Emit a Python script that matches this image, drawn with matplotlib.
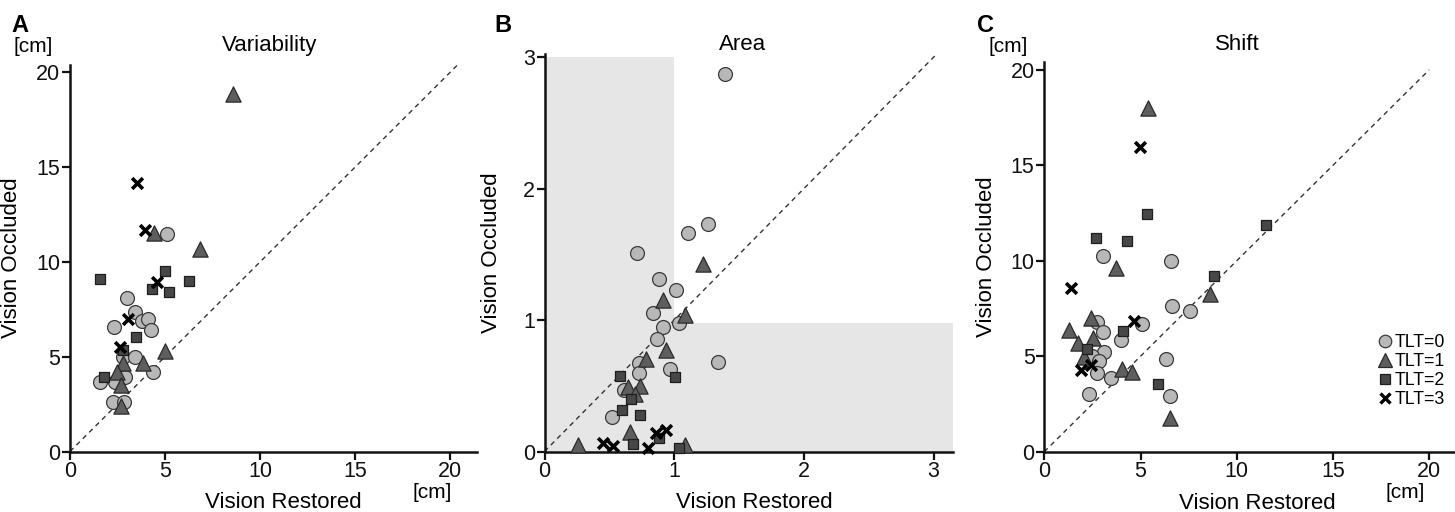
import matplotlib
matplotlib.use("Agg")
import matplotlib.pyplot as plt
from matplotlib.lines import Line2D

plt.rcParams['font.family'] = ['Liberation Sans', 'DejaVu Sans']

# ---------------- data ----------------
# Panel A: Variability [cm]
A_c0_x = [2.98, 3.43, 3.77, 4.08, 2.33, 4.27, 2.77, 3.40, 4.38, 2.89, 1.58, 2.36, 2.28, 2.85, 5.08]
A_c0_y = [8.08, 7.35, 6.89, 6.98, 6.55, 6.41, 4.97, 5.00, 4.21, 3.95, 3.65, 3.68, 2.63, 2.63, 11.48]
A_c1_x = [8.57, 4.43, 6.83, 4.98, 2.80, 3.85, 2.45, 2.68, 2.66]
A_c1_y = [18.87, 11.51, 10.69, 5.32, 4.65, 4.65, 4.21, 3.51, 2.40]
A_c2_x = [1.58, 4.99, 4.31, 5.22, 6.24, 3.45, 2.80, 1.80]
A_c2_y = [9.09, 9.49, 8.56, 8.40, 9.00, 6.06, 5.36, 3.92]
A_c3_x = [3.50, 3.96, 4.56, 3.05, 2.63]
A_c3_y = [14.15, 11.65, 8.96, 6.98, 5.50]

# Panel B: Area
B_c0_x = [1.39, 1.26, 1.11, 0.71, 0.885, 1.015, 0.84, 0.91, 1.04, 0.87, 0.726, 1.34, 0.967, 0.73, 0.61, 0.52]
B_c0_y = [2.87, 1.73, 1.66, 1.51, 1.31, 1.23, 1.05, 0.95, 0.976, 0.854, 0.67, 0.68, 0.63, 0.60, 0.47, 0.266]
B_c1_x = [1.22, 0.915, 1.08, 0.94, 0.78, 0.736, 0.64, 0.70, 0.66, 0.26, 1.08]
B_c1_y = [1.43, 1.15, 1.04, 0.77, 0.70, 0.50, 0.49, 0.44, 0.147, 0.05, 0.05]
B_c2_x = [0.585, 1.005, 0.67, 0.595, 0.736, 0.885, 0.68, 1.04]
B_c2_y = [0.576, 0.57, 0.40, 0.317, 0.28, 0.10, 0.058, 0.028]
B_c3_x = [0.86, 0.936, 0.45, 0.526, 0.80]
B_c3_y = [0.14, 0.16, 0.066, 0.045, 0.025]

# Panel C: Shift [cm]
C_c0_x = [3.04, 6.60, 6.63, 7.55, 2.76, 5.07, 3.07, 3.98, 3.10, 2.50, 2.85, 6.32, 2.73, 3.46, 2.34, 6.55]
C_c0_y = [10.26, 10.00, 7.64, 7.37, 6.77, 6.69, 6.27, 5.85, 5.24, 5.01, 4.75, 4.84, 4.10, 3.84, 3.02, 2.92]
C_c1_x = [5.39, 3.70, 8.60, 2.43, 1.29, 2.55, 1.74, 2.08, 4.03, 4.55, 6.51]
C_c1_y = [17.98, 9.63, 8.26, 6.98, 6.37, 5.94, 5.71, 4.94, 4.33, 4.16, 1.78]
C_c2_x = [5.36, 2.69, 4.32, 11.50, 8.80, 4.08, 2.20, 5.90]
C_c2_y = [12.44, 11.20, 11.05, 11.87, 9.20, 6.34, 5.36, 3.54]
C_c3_x = [4.98, 1.39, 4.67, 2.42, 1.91]
C_c3_y = [15.97, 8.55, 6.84, 4.54, 4.28]

group_labels = ['TLT=0', 'TLT=1', 'TLT=2', 'TLT=3']
panel_titles = ['Variability', 'Area', 'Shift']
ticks_cm = [0, 5, 10, 15, 20]
ticks_area = [0, 1, 2, 3]

# ---------------- styles ----------------
styles = [
    dict(marker='o', s=100, facecolor='#b8b8b8', edgecolor='#3a3a3a', linewidths=0.9),
    dict(marker='^', s=120, facecolor='#5e5e5e', edgecolor='#2a2a2a', linewidths=0.9),
    dict(marker='s', s=62, facecolor='#474747', edgecolor='#1e1e1e', linewidths=0.9),
    dict(marker='x', s=60, color='#000000', linewidths=2.6),
]

fig = plt.figure(figsize=(14.55, 5.12), dpi=100)

axA = fig.add_axes([70/1455, 60.5/512, 407/1455, 387/512])
axB = fig.add_axes([544.5/1455, 60.5/512, 408.6/1455, 397/512])
axC = fig.add_axes([1044.3/1455, 60.3/512, 410/1455, 389.6/512])

TICK_FS = 15.5
LAB_FS = 16


def style_axes(ax, xlim, ylim, ticks):
    ax.set_xlim(*xlim)
    ax.set_ylim(*ylim)
    ax.set_xticks(ticks)
    ax.set_yticks(ticks)
    for sp in ['top', 'right']:
        ax.spines[sp].set_visible(False)
    for sp in ['left', 'bottom']:
        ax.spines[sp].set_linewidth(1.8)
        ax.spines[sp].set_color('#111111')
    ax.tick_params(direction='out', length=6, width=1.6, labelsize=TICK_FS,
                   colors='#111111', pad=1)


def draw_groups(ax, data):
    for (xs, ys), st in zip(data, styles):
        ax.scatter(xs, ys, zorder=3, clip_on=False, **st)


def diag(ax, end):
    ax.plot([0, end], [0, end], ls=(0, (3.5, 3)), lw=1.0, color='#333333', zorder=2)


# Panel A
style_axes(axA, (0, 21.4), (0, 20.4), ticks_cm)
diag(axA, 20.4)
draw_groups(axA, [(A_c0_x, A_c0_y), (A_c1_x, A_c1_y), (A_c2_x, A_c2_y), (A_c3_x, A_c3_y)])
axA.set_xlabel('Vision Restored', fontsize=LAB_FS)
axA.xaxis.set_label_coords(0.523, -0.105)
axA.set_ylabel('Vision Occluded', fontsize=LAB_FS)
axA.yaxis.set_label_coords(-0.118, 0.5)

# Panel B
style_axes(axB, (0, 3.15), (0, 3.02), ticks_area)
axB.fill_between([0, 1], 0, 3.0, color='#e6e6e6', lw=0, zorder=0)
axB.fill_between([1, 3.15], 0, 0.98, color='#e6e6e6', lw=0, zorder=0)
diag(axB, 3.06)
draw_groups(axB, [(B_c0_x, B_c0_y), (B_c1_x, B_c1_y), (B_c2_x, B_c2_y), (B_c3_x, B_c3_y)])
axB.set_xlabel('Vision Restored', fontsize=LAB_FS)
axB.xaxis.set_label_coords(0.513, -0.102)
axB.set_ylabel('Vision Occluded', fontsize=LAB_FS)
axB.yaxis.set_label_coords(-0.104, 0.5)

# Panel C
style_axes(axC, (0, 21.3), (0, 20.4), ticks_cm)
diag(axC, 20.0)
draw_groups(axC, [(C_c0_x, C_c0_y), (C_c1_x, C_c1_y), (C_c2_x, C_c2_y), (C_c3_x, C_c3_y)])
axC.set_xlabel('Vision Restored', fontsize=LAB_FS)
axC.xaxis.set_label_coords(0.519, -0.105)
axC.set_ylabel('Vision Occluded', fontsize=LAB_FS)
axC.yaxis.set_label_coords(-0.115, 0.5)

# Titles at a common height
for xc, t in zip([270, 743, 1237], panel_titles):
    fig.text(xc/1455, 1 - 45/512, t, fontsize=LAB_FS, ha='center', va='center')

# Legend in panel C
handles = [
    Line2D([], [], ls='none', marker='o', markersize=9, markerfacecolor='#b8b8b8', markeredgecolor='#3a3a3a', markeredgewidth=0.9),
    Line2D([], [], ls='none', marker='^', markersize=10, markerfacecolor='#5e5e5e', markeredgecolor='#2a2a2a', markeredgewidth=0.9),
    Line2D([], [], ls='none', marker='s', markersize=7.5, markerfacecolor='#474747', markeredgecolor='#1e1e1e', markeredgewidth=0.9),
    Line2D([], [], ls='none', marker='x', markersize=7.5, color='#000000', markeredgewidth=2.4),
]
fig.legend(handles, group_labels, loc='upper left', bbox_to_anchor=(1380/1455, 1 - 334/512),
           frameon=False, fontsize=12.8, handlelength=0.6, handletextpad=0.25,
           labelspacing=0.12, borderaxespad=0, borderpad=0)

# Panel letters and units
fig.text(20/1455, 1 - 26/512, 'A', fontsize=17, fontweight='bold', ha='center', va='center')
fig.text(503/1455, 1 - 26/512, 'B', fontsize=17, fontweight='bold', ha='center', va='center')
fig.text(985/1455, 1 - 26/512, 'C', fontsize=17, fontweight='bold', ha='center', va='center')
fig.text(33/1455, 1 - 47/512, '[cm]', fontsize=15, ha='center', va='center')
fig.text(1008/1455, 1 - 47/512, '[cm]', fontsize=15, ha='center', va='center')
fig.text(432/1455, 1 - 493/512, '[cm]', fontsize=15, ha='center', va='center')
fig.text(1405/1455, 1 - 493/512, '[cm]', fontsize=15, ha='center', va='center')

fig.savefig('out.png', dpi=100, facecolor='white')
